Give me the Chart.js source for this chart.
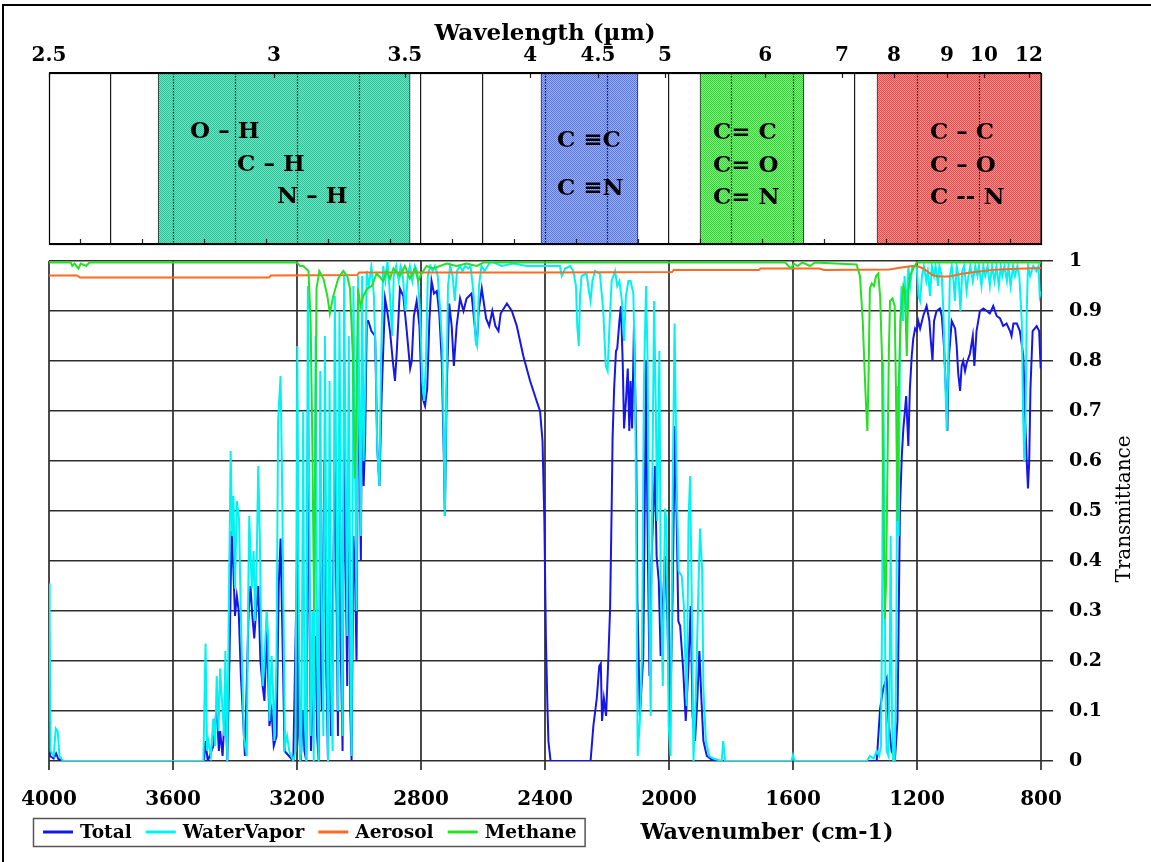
<!DOCTYPE html>
<html><head><meta charset="utf-8">
<script src="https://cdn.jsdelivr.net/npm/chart.js@4.4.1/dist/chart.umd.min.js"></script>
<style>
html,body{margin:0;padding:0;background:#fff;}
#wrap{position:relative;width:1151px;height:862px;overflow:hidden;background:#fff;}
#frame{position:absolute;left:2px;top:4px;width:1200px;height:900px;border-left:2px solid #000;border-top:2px solid #000;pointer-events:none;}
canvas{position:absolute;left:0;}
#topc{top:0;}
#botc{top:250px;}
</style></head>
<body><div id="wrap">
<canvas id="topc" width="1151" height="250"></canvas>
<canvas id="botc" width="1151" height="612"></canvas>
<div id="frame"></div>
</div>
<script>
// ---------------- DATA ----------------
// Top panel: functional-group bands (wavenumber, cm-1)
const bandStart = [3648, 2413, 1900, 1329];
const bandEnd   = [2835, 2100, 1565, 800];
const bandLabels = [["O – H", "C – H", "N – H"], ["C ≡C", "C ≡N"], ["C= C", "C= O", "C= N"], ["C – C", "C – O", "C -- N"]];
// Wavelength tick labels (µm) and where they sit on the wavenumber axis
const wavelengthLabels = ["2.5", "3", "3.5", "4", "4.5", "5", "6", "7", "8", "9", "10", "12"];
const wavelengthPos    = [4000, 3274, 2852, 2448, 2229, 2013, 1690, 1442, 1274, 1103, 984, 839];

// Spectra: [wavenumber, transmittance]
const waterVapor = [
[4000,0.355],[3998,0.30],[3995,0.02],[3985,0.01],[3978,0.065],[3972,0.06],[3966,0.01],[3955,0],
[3502,0],[3495,0.235],[3490,0.02],[3486,0.04],[3478,0.01],[3470,0.085],[3464,0.03],[3459,0.17],[3453,0.06],[3448,0.185],[3440,0.1],[3435,0.05],[3431,0.22],[3425,0],[3420,0.3],[3414,0.62],[3409,0.45],[3405,0.53],[3400,0.345],[3394,0.52],[3387,0.485],[3383,0.35],[3378,0.21],[3371,0.045],[3362,0.01],[3358,0.3],[3354,0.49],[3346,0.345],[3340,0.42],[3335,0.28],[3330,0.4],[3325,0.59],[3320,0.45],[3317,0.31],[3311,0.15],[3305,0.2],[3298,0.3],[3293,0.25],[3289,0.08],[3282,0.21],[3278,0.15],[3273,0.04],[3266,0.205],[3261,0.68],[3253,0.77],[3249,0.6],[3246,0.44],[3239,0.03],[3232,0.05],[3225,0.02],[3212,0],[3205,0.02],[3199,0.83],[3194,0.3],[3190,0],
[3186,0.02],[3180,0.7],[3176,0.1],[3170,0.0],[3165,0.95],[3160,0.5],[3156,0.05],[3150,0.3],[3146,0.0],[3140,0.85],[3135,0.2],[3130,0.0],[3125,0.78],[3120,0.3],[3115,0.05],[3110,0.85],[3105,0.35],[3100,0.0],[3095,0.76],[3090,0.15],[3085,0.02],[3078,0.93],[3072,0.45],[3068,0.1],[3063,0.9],[3058,0.4],[3053,0.05],[3048,0.97],[3043,0.6],[3038,0.25],[3033,0.85],[3028,0.2],[3024,0.01],[3018,0.95],[3012,0.55],[3008,0.3],[3003,0.97],[2998,0.65],[2994,0.45],[2990,0.97],[2985,0.6],[2980,0.75],
[2975,0.98],[2968,0.95],[2960,0.99],[2952,0.93],[2946,0.8],[2941,0.62],[2934,0.55],[2929,0.8],[2922,0.99],[2915,0.96],[2908,1.0],[2900,0.93],[2893,0.85],[2888,0.97],[2880,0.99],[2872,0.96],[2866,0.99],[2860,0.98],[2850,0.9],[2843,0.97],[2836,0.99],[2828,0.96],[2820,0.99],[2812,0.98],[2803,0.9],[2796,0.76],[2790,0.72],[2784,0.8],[2778,0.97],[2770,0.99],[2762,0.98],[2755,0.99],[2746,0.97],[2738,0.9],[2731,0.82],[2726,0.62],[2723,0.49],[2719,0.7],[2713,0.95],[2706,0.99],[2698,0.97],[2691,0.92],[2684,0.98],[2675,0.99],[2666,0.98],[2658,0.99],[2648,0.985],[2640,0.99],[2630,0.93],[2624,0.84],[2619,0.83],[2613,0.95],[2605,0.99],[2595,0.98],[2585,0.99],[2575,1.0],[2540,0.99],[2500,0.995],[2460,0.99],
[2420,0.99],[2352,0.99],[2346,0.97],[2335,0.985],[2319,0.99],[2309,0.98],[2300,0.95],[2296,0.87],[2291,0.83],[2287,0.93],[2282,0.97],[2266,0.975],[2257,0.935],[2253,0.92],[2247,0.96],[2239,0.98],[2223,0.975],[2212,0.9],[2204,0.79],[2198,0.78],[2192,0.87],[2185,0.96],[2174,0.98],[2167,0.95],[2160,0.96],[2152,0.92],[2145,0.84],[2139,0.93],[2131,0.96],[2124,0.96],[2115,0.935],[2109,0.745],[2104,0.31],[2101,0.01],[2094,0.08],[2087,0.21],[2081,0.75],[2074,0.95],[2069,0.8],[2063,0.27],[2059,0.09],[2055,0.48],[2048,0.92],[2042,0.68],[2038,0.48],[2031,0.82],[2027,0.38],[2020,0.15],[2013,0.505],[2008,0.48],[2001,0.07],[1995,0.01],[1988,0.55],[1982,0.875],[1975,0.55],[1969,0.38],[1959,0.37],[1952,0.31],[1943,0.11],[1937,0.48],[1932,0.57],[1927,0.345],[1921,0],[1913,0.145],[1905,0.345],[1900,0.465],[1893,0.38],[1889,0.145],[1881,0.04],[1870,0.01],[1857,0.005],[1830,0.0],[1825,0.04],[1819,0.0],
[1605,0],[1600,0.012],[1595,0],
[1362,0],[1352,0.01],[1340,0.005],[1330,0.02],[1322,0.01],[1316,0.03],[1312,0.36],[1309,0.8],[1305,0.5],[1302,0.15],[1298,0.02],[1292,0.01],[1288,0.2],[1285,0.45],[1281,0.1],[1277,0.0],[1272,0.0],[1267,0.2],[1263,0.75],[1259,0.45],[1255,0.85],[1250,0.95],[1245,0.88],[1240,0.97],[1235,0.9],[1228,0.99],[1222,0.95],[1215,0.99],
[1201,0.99],[1195,0.93],[1190,0.92],[1184,0.97],[1178,0.99],[1170,0.96],[1165,0.98],[1158,0.93],[1152,0.99],[1145,0.97],[1140,0.99],[1132,0.95],[1128,0.99],[1120,0.97],[1115,0.9],[1110,0.78],[1104,0.66],[1099,0.8],[1094,0.97],[1088,0.99],[1082,0.96],[1078,0.92],[1072,0.99],[1066,0.97],[1060,0.9],[1054,0.98],[1048,0.99],[1040,0.94],[1034,0.97],[1028,0.99],[1020,0.96],[1012,0.99],[1005,0.97],[1000,0.99],[992,0.95],[986,0.99],[980,0.97],[972,0.99],[965,0.95],[958,0.99],[950,0.96],[944,0.99],[936,0.95],[930,0.99],[925,0.97],[918,0.99],[910,0.96],[905,0.99],[898,0.95],[890,0.99],[884,0.97],[876,0.99],[870,0.97],[862,0.88],[858,0.7],[854,0.6],[850,0.68],[846,0.9],[842,0.99],[835,0.97],[825,0.99],[815,0.98],[808,0.99],[804,0.93],[800,0.94]
];

const total = [
[4000,0.08],[3997,0.01],[3985,0.005],[3977,0.015],[3970,0.004],[3955,0],
[3500,0],[3495,0.04],[3488,0.0],[3470,0.03],[3459,0.11],[3452,0.02],[3448,0.06],[3440,0.01],[3431,0.125],[3425,0],[3418,0.2],[3411,0.46],[3405,0.38],[3400,0.29],[3394,0.33],[3388,0.3],[3381,0.17],[3375,0.1],[3368,0.01],[3356,0.3],[3350,0.35],[3344,0.29],[3338,0.245],[3332,0.3],[3325,0.35],[3318,0.2],[3311,0.15],[3305,0.12],[3298,0.26],[3292,0.15],[3289,0.07],[3282,0.1],[3275,0.03],[3266,0.05],[3259,0.35],[3253,0.445],[3247,0.25],[3240,0.02],[3212,0],
[3199,0.43],[3193,0.05],[3188,0.0],[3180,0.1],[3176,0.02],[3170,0.0],[3165,0.7],[3160,0.3],[3155,0.02],[3148,0.15],[3145,0.2],[3140,0.25],[3135,0.05],[3130,0.0],[3125,0.45],[3120,0.1],[3112,0.6],[3106,0.2],[3100,0.0],[3095,0.5],[3090,0.05],[3078,0.6],[3072,0.3],[3068,0.05],[3063,0.65],[3058,0.2],[3053,0.02],[3048,0.7],[3043,0.4],[3038,0.15],[3033,0.6],[3028,0.1],[3024,0.0],[3018,0.45],[3012,0.35],[3008,0.2],[3003,0.75],[2998,0.62],[2994,0.4],[2990,0.8],[2985,0.55],[2980,0.65],
[2975,0.88],[2970,0.88],[2960,0.86],[2948,0.85],[2941,0.625],[2934,0.55],[2927,0.73],[2916,0.925],[2909,0.9],[2900,0.86],[2891,0.8],[2884,0.76],[2878,0.82],[2868,0.945],[2857,0.93],[2846,0.86],[2835,0.785],[2830,0.8],[2823,0.89],[2814,0.92],[2805,0.87],[2798,0.735],[2792,0.72],[2787,0.71],[2780,0.745],[2773,0.88],[2766,0.96],[2758,0.935],[2749,0.94],[2741,0.895],[2733,0.8],[2726,0.6],[2723,0.49],[2717,0.745],[2709,0.915],[2701,0.87],[2694,0.79],[2685,0.87],[2674,0.925],[2663,0.9],[2653,0.925],[2637,0.935],[2626,0.865],[2620,0.83],[2614,0.9],[2604,0.945],
[2590,0.885],[2580,0.87],[2570,0.9],[2560,0.87],[2550,0.86],[2543,0.895],[2523,0.915],[2507,0.9],[2491,0.87],[2470,0.81],[2448,0.76],[2427,0.72],[2416,0.7],[2408,0.64],[2402,0.48],[2397,0.24],[2392,0.105],[2389,0.04],[2382,0],
[2253,0],[2244,0.07],[2233,0.125],[2225,0.19],[2220,0.195],[2216,0.08],[2210,0.125],[2203,0.09],[2196,0.2],[2190,0.305],[2185,0.505],[2182,0.645],[2177,0.745],[2171,0.82],[2167,0.825],[2160,0.88],[2155,0.91],[2149,0.79],[2145,0.665],[2139,0.72],[2133,0.785],[2128,0.66],[2124,0.76],[2119,0.665],[2113,0.87],[2106,0.645],[2102,0.32],[2094,0.09],[2083,0.21],[2074,0.8],[2070,0.51],[2063,0.17],[2056,0.41],[2045,0.59],[2040,0.41],[2033,0.36],[2027,0.21],[2020,0.31],[2013,0.41],[2005,0.28],[1997,0.06],[1988,0.345],[1981,0.67],[1975,0.48],[1970,0.28],[1964,0.27],[1954,0.18],[1946,0.08],[1938,0.18],[1930,0.31],[1924,0.09],[1916,0.04],[1909,0.12],[1902,0.22],[1896,0.13],[1889,0.04],[1878,0.01],[1862,0.003],[1850,0],
[1330,0],[1319,0.105],[1309,0.145],[1298,0.165],[1292,0.08],[1287,0.05],[1282,0.02],[1271,0.005],[1263,0.08],[1259,0.29],[1255,0.505],[1249,0.61],[1244,0.665],[1239,0.7],[1235,0.73],[1228,0.63],[1223,0.745],[1217,0.81],[1212,0.845],[1206,0.865],[1201,0.86],[1196,0.88],[1190,0.865],[1180,0.89],[1169,0.91],[1160,0.88],[1156,0.845],[1150,0.8],[1145,0.88],[1137,0.9],[1126,0.905],[1120,0.89],[1113,0.83],[1107,0.745],[1102,0.66],[1098,0.8],[1088,0.88],[1077,0.865],[1072,0.83],[1067,0.775],[1061,0.74],[1056,0.79],[1051,0.8],[1045,0.78],[1040,0.795],[1029,0.815],[1020,0.85],[1015,0.79],[1008,0.86],[997,0.9],[986,0.905],[975,0.9],[965,0.895],[954,0.91],[943,0.89],[932,0.885],[922,0.87],[911,0.875],[900,0.86],[895,0.85],[889,0.875],[878,0.875],[868,0.86],[857,0.81],[851,0.68],[846,0.6],[842,0.545],[838,0.6],[834,0.745],[827,0.86],[814,0.87],[806,0.86],[801,0.785]
];

const aerosol = [
[4000,0.971],[3910,0.971],[3900,0.967],[3290,0.967],[3285,0.971],[3005,0.972],[3000,0.977],[2400,0.977],[1990,0.978],[1985,0.982],[1710,0.982],[1705,0.985],[1515,0.985],[1500,0.982],[1290,0.983],[1250,0.987],[1215,0.99],[1200,0.99],[1180,0.985],[1150,0.972],[1130,0.969],[1095,0.969],[1050,0.975],[1000,0.979],[960,0.982],[900,0.984],[850,0.985],[800,0.986]
];

const methane = [
[4000,0.997],[3930,0.997],[3925,0.99],[3918,0.995],[3905,0.985],[3898,0.995],[3880,0.99],[3870,0.997],[3200,0.997],[3190,0.99],[3180,0.99],[3163,0.98],[3156,0.88],[3150,0.61],[3145,0.3],[3141,0.6],[3137,0.945],[3128,0.98],[3115,0.965],[3102,0.93],[3094,0.895],[3083,0.93],[3067,0.965],[3051,0.98],[3038,0.97],[3029,0.945],[3020,0.81],[3014,0.565],[3010,0.64],[3003,0.945],[2995,0.91],[2986,0.93],[2973,0.945],[2959,0.95],[2943,0.975],[2922,0.96],[2911,0.98],[2900,0.965],[2889,0.985],[2868,0.97],[2852,0.99],[2836,0.965],[2819,0.985],[2809,0.96],[2798,0.975],[2782,0.99],[2760,0.985],[2739,0.99],[2717,0.995],[2685,0.99],[2653,0.995],[2620,0.99],[2599,0.997],[1625,0.997],[1615,0.99],[1605,0.985],[1598,0.995],[1585,0.99],[1570,0.997],[1545,0.99],[1530,0.997],[1395,0.993],[1384,0.97],[1375,0.88],[1369,0.78],[1365,0.72],[1360,0.66],[1356,0.78],[1352,0.945],[1346,0.955],[1339,0.95],[1332,0.97],[1325,0.975],[1319,0.93],[1313,0.81],[1309,0.545],[1304,0.285],[1300,0.35],[1296,0.545],[1291,0.81],[1287,0.92],[1279,0.925],[1272,0.91],[1268,0.745],[1263,0.48],[1259,0.745],[1253,0.88],[1244,0.95],[1239,0.94],[1233,0.81],[1228,0.94],[1223,0.97],[1212,0.985],[1201,0.997],[800,0.997]
];

const seriesNames  = ["Total", "WaterVapor", "Aerosol", "Methane"];
const seriesColors = ["#1616e8", "#00f2f2", "#ff6a22", "#26e026"];

// ---------------- RENDERING ----------------
const FONT = "'DejaVu Serif', 'Liberation Serif', serif";
const toXY = arr => arr.map(p => ({x: p[0], y: p[1]}));

const topCanvas = document.getElementById('topc');
const tctx = topCanvas.getContext('2d');
function makePattern(dark, light) {
  const p = document.createElement('canvas'); p.width = 2; p.height = 2;
  const g = p.getContext('2d');
  g.fillStyle = light; g.fillRect(0, 0, 2, 2);
  g.fillStyle = dark; g.fillRect(0, 0, 1, 1); g.fillRect(1, 1, 1, 1);
  return tctx.createPattern(p, 'repeat');
}
const bandFills = [
  makePattern('#2cc49a', '#70e2c2'),
  makePattern('#5674ee', '#a0b2f8'),
  makePattern('#2fd62f', '#86ef86'),
  makePattern('#ee4848', '#f99494')
];

// label layout inside the bands: [px offset from band left, px offset from panel top]
const bandTextLayout = [
  [[32, 59], [79, 92], [119, 124]],
  [[16, 68], [16, 116]],
  [[13, 60], [13, 93], [13, 125]],
  [[53, 60], [53, 93], [53, 125]]
];

const topDecor = {
  id: 'topDecor',
  afterDatasetsDraw(chart) {
    const ctx = chart.ctx, a = chart.chartArea, xs = chart.scales.x, xw = chart.scales.xw;
    ctx.save();
    ctx.strokeStyle = '#1a1a1a'; ctx.lineWidth = 1.2; ctx.setLineDash([1.5, 1.5]);
    xs.ticks.forEach(t => {
      if (t.value % 200 !== 0 || t.value === 800 || t.value === 4000) return;
      for (let i = 0; i < bandStart.length; i++) {
        const hi = Math.max(bandStart[i], bandEnd[i]), lo = Math.min(bandStart[i], bandEnd[i]);
        if (t.value < hi - 5 && t.value > lo + 5) {
          const px = Math.round(xs.getPixelForValue(t.value)) + 0.5;
          ctx.beginPath(); ctx.moveTo(px, a.top); ctx.lineTo(px, a.bottom); ctx.stroke();
        }
      }
    });
    ctx.setLineDash([]);
    ctx.strokeStyle = '#222'; ctx.lineWidth = 1.2;
    xs.ticks.forEach(t => {
      if (t.value % 200 === 0) return;
      const px = Math.round(xs.getPixelForValue(t.value)) + 0.5;
      ctx.beginPath(); ctx.moveTo(px, a.bottom); ctx.lineTo(px, a.bottom - 5); ctx.stroke();
    });
    xw.ticks.forEach(t => {
      const px = Math.round(xw.getPixelForValue(t.value)) + 0.5;
      ctx.beginPath(); ctx.moveTo(px, a.top); ctx.lineTo(px, a.top + 5); ctx.stroke();
    });
    ctx.fillStyle = '#000'; ctx.font = `bold 23px ${FONT}`;
    ctx.textBaseline = 'middle'; ctx.textAlign = 'left';
    bandLabels.forEach((lines, i) => {
      const left = xs.getPixelForValue(bandStart[i]);
      lines.forEach((txt, j) => {
        const [dx, dy] = bandTextLayout[i][j];
        ctx.fillText(txt, left + dx, a.top + dy);
      });
    });
    ctx.strokeStyle = '#000'; ctx.lineWidth = 1.2;
    ctx.strokeRect(a.left + 0.5, a.top + 0.5, a.right - a.left, a.bottom - a.top);
    ctx.lineWidth = 2;
    ctx.beginPath(); ctx.moveTo(a.left, a.top); ctx.lineTo(a.right, a.top);
    ctx.moveTo(a.left, a.bottom); ctx.lineTo(a.right, a.bottom); ctx.stroke();
    ctx.restore();
  }
};

new Chart(topCanvas, {
  type: 'bar',
  data: {
    labels: ['band'],
    datasets: bandStart.map((s, i) => ({
      label: 'band' + i,
      data: [[bandStart[i], bandEnd[i]]],
      backgroundColor: bandFills[i],
      borderColor: '#2a2a2a',
      borderWidth: 1,
      borderSkipped: false,
      barPercentage: 1, categoryPercentage: 1, grouped: false
    }))
  },
  options: {
    indexAxis: 'y',
    responsive: false, animation: false,
    layout: {padding: {left: 49, right: 110, top: 20, bottom: 6}},
    plugins: {legend: {display: false}, tooltip: {enabled: false}},
    scales: {
      y: {display: false},
      x: {
        type: 'linear', reverse: true, min: 800, max: 4000, position: 'bottom',
        ticks: {display: false, stepSize: 100},
        grid: {
          color: c => (c.tick && c.tick.value % 200 === 0 && c.tick.value !== 800 && c.tick.value !== 4000) ? '#1a1a1a' : 'rgba(0,0,0,0)',
          lineWidth: 1.2, drawTicks: false
        },
        border: {display: false},
        afterFit: s => { s.height = 0; }
      },
      xw: {
        type: 'linear', reverse: true, min: 800, max: 4000, position: 'top',
        afterBuildTicks: s => { s.ticks = wavelengthPos.map(v => ({value: v})); },
        ticks: {autoSkip: false, maxRotation: 0, padding: 5, color: '#000',
                font: {family: FONT, size: 20, weight: 'bold'},
                callback: (v, i) => wavelengthLabels[i]},
        grid: {display: false, drawTicks: false},
        border: {display: false},
        title: {display: true, text: 'Wavelength (µm)', color: '#000',
                font: {family: FONT, size: 23, weight: 'bold'}, padding: {top: 0, bottom: 0}},
        afterFit: s => { s.height = 53; }
      }
    }
  },
  plugins: [topDecor]
});

const bottomDecor = {
  id: 'bottomDecor',
  afterDraw(chart) {
    const ctx = chart.ctx;
    ctx.save();
    const ds = chart.data.datasets;
    ctx.font = `bold 18.6px ${FONT}`;
    ctx.textBaseline = 'middle'; ctx.textAlign = 'left';
    const boxL = 33, boxT = 568, boxH = 28, cy = 582;
    let x = 43;
    ds.forEach(d => {
      ctx.strokeStyle = d.borderColor; ctx.lineWidth = 3;
      ctx.beginPath(); ctx.moveTo(x, cy); ctx.lineTo(x + 30, cy); ctx.stroke();
      ctx.fillStyle = '#000'; ctx.fillText(d.label, x + 37, cy + 1);
      x += 37 + ctx.measureText(d.label).width + 14;
    });
    ctx.strokeStyle = '#555'; ctx.lineWidth = 1.5;
    ctx.strokeRect(boxL + 0.5, boxT + 0.5, x - 6 - boxL, boxH);
    ctx.font = `bold 22.3px ${FONT}`; ctx.textAlign = 'center'; ctx.fillStyle = '#000';
    ctx.fillText('Wavenumber (cm-1)', 767, 583);
    ctx.translate(1125, 259); ctx.rotate(-Math.PI / 2);
    ctx.font = `20px ${FONT}`;
    ctx.fillText('Transmittance', 0, 0);
    ctx.restore();
  }
};

const seriesData = [total, waterVapor, aerosol, methane];
new Chart(document.getElementById('botc'), {
  type: 'line',
  data: {
    datasets: seriesData.map((arr, i) => ({
      label: seriesNames[i],
      data: toXY(arr),
      borderColor: seriesColors[i],
      backgroundColor: seriesColors[i],
      borderWidth: 2,
      pointRadius: 0,
      tension: 0,
      fill: false,
      order: 3 - i
    }))
  },
  options: {
    responsive: false, animation: false,
    layout: {padding: {left: 49, top: 11, right: 0, bottom: 0}},
    plugins: {legend: {display: false}, tooltip: {enabled: false}},
    scales: {
      x: {
        type: 'linear', reverse: true, min: 800, max: 4000,
        ticks: {stepSize: 400, padding: 18, maxRotation: 0, color: '#000',
                font: {family: FONT, size: 20, weight: 'bold'},
                callback: v => String(v)},
        grid: {color: '#4a4a4a', lineWidth: 2, tickLength: 9},
        border: {display: false},
        afterFit: s => { s.height = 101; s.paddingLeft = 0; s.paddingRight = 0; }
      },
      y: {
        position: 'right', min: 0, max: 1,
        ticks: {stepSize: 0.1, padding: 16, color: '#000',
                font: {family: FONT, size: 19, weight: 'bold'},
                callback: v => String(Math.round(v * 10) / 10)},
        grid: {color: '#2e2e2e', lineWidth: 1.5, tickLength: 12},
        border: {display: false},
        afterFit: s => { s.width = 110; s.paddingTop = 0; s.paddingBottom = 0; }
      }
    }
  },
  plugins: [bottomDecor]
});
</script>
</body></html>
